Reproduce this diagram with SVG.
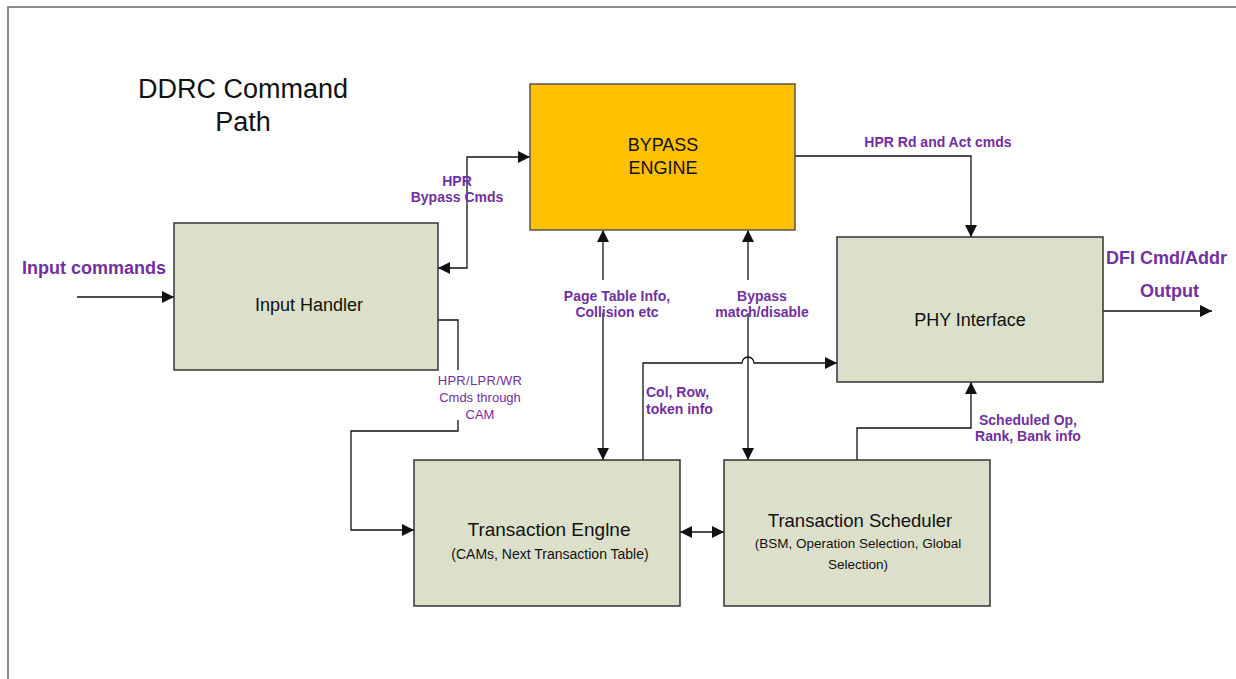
<svg xmlns="http://www.w3.org/2000/svg" width="1236" height="679" viewBox="0 0 1236 679">
<style>
.box{fill:#DCE0CA;stroke:#333;stroke-width:1.5}
.byp{fill:#FFC000;stroke:#555;stroke-width:1.5}
.t{font-family:"Liberation Sans",Arial,sans-serif;fill:#111;text-anchor:middle}
.lb{font-family:"Liberation Sans",Arial,sans-serif;fill:#7030A0;font-weight:bold;font-size:14px;text-anchor:middle}
.ls{font-family:"Liberation Sans",Arial,sans-serif;fill:#7030A0;font-weight:bold;font-size:14px;text-anchor:start}
.ln{font-family:"Liberation Sans Narrow","Liberation Sans",Arial,sans-serif;fill:#7030A0;font-size:13px;text-anchor:middle}
.big{font-family:"Liberation Sans",Arial,sans-serif;fill:#7030A0;font-weight:bold;font-size:18px}
.c{fill:none;stroke:#111;stroke-width:1.3}
</style>
<defs>
<marker id="ah" viewBox="0 0 10 10" refX="10" refY="5" markerWidth="13" markerHeight="12" markerUnits="userSpaceOnUse" orient="auto-start-reverse">
<path d="M0,0 L10,5 L0,10 Z" fill="#111"/>
</marker>
</defs>
<rect width="1236" height="679" fill="#fff"/>
<path d="M8,679 V7 H1236" fill="none" stroke="#666" stroke-width="1.5"/>
<g id="title">
<text class="t" x="243" y="98" font-size="27">DDRC Command</text>
<text class="t" x="243" y="131" font-size="27">Path</text>
</g>
<g id="connectors">
<path class="c" d="M77,297 H174" marker-end="url(#ah)"/>
<path class="c" d="M530,157 H467 V268 H438" marker-start="url(#ah)" marker-end="url(#ah)"/>
<path class="c" d="M438,320 H458 V370"/>
<path class="c" d="M458,420 V431 H351 V530 H414" marker-end="url(#ah)"/>
<path class="c" d="M795,156 H971 V237" marker-end="url(#ah)"/>
<path class="c" d="M1103,311 H1212" marker-end="url(#ah)"/>
<path class="c" d="M603,280 V230" marker-end="url(#ah)"/>
<path class="c" d="M603,313 V460" marker-end="url(#ah)"/>
<path class="c" d="M748,280 V230" marker-end="url(#ah)"/>
<path class="c" d="M748,313 V460" marker-end="url(#ah)"/>
<path class="c" d="M643,460 V363 H742 A6,6 0 0 1 754,363 H837" marker-end="url(#ah)"/>
<path class="c" d="M857,460 V428 H971 V382" marker-end="url(#ah)"/>
<path class="c" d="M680,532 H724" marker-start="url(#ah)" marker-end="url(#ah)"/>
</g>
<g id="bypass-engine">
<rect class="byp" x="530" y="84" width="265" height="146"/>
<text class="t" x="663" y="151" font-size="18">BYPASS</text>
<text class="t" x="663" y="174" font-size="18">ENGINE</text>
</g>
<g id="input-handler">
<rect class="box" x="174" y="223" width="264" height="147"/>
<text class="t" x="309" y="311" font-size="18">Input Handler</text>
</g>
<g id="phy-interface">
<rect class="box" x="837" y="237" width="266" height="145"/>
<text class="t" x="970" y="326" font-size="18">PHY Interface</text>
</g>
<g id="transaction-engine">
<rect class="box" x="414" y="460" width="266" height="146"/>
<text class="t" x="549" y="536" font-size="19">Transaction Englne</text>
<text class="t" x="550" y="559" font-size="14">(CAMs, Next Transaction Table)</text>
</g>
<g id="transaction-scheduler">
<rect class="box" x="724" y="460" width="266" height="146"/>
<text class="t" x="860" y="527" font-size="18.5">Transaction Scheduler</text>
<text class="t" x="858" y="548" font-size="13.5">(BSM, Operation Selection, Global</text>
<text class="t" x="858" y="569" font-size="13.5">Selection)</text>
</g>
<g id="labels">
<text class="big" x="22" y="274">Input commands</text>
<text class="lb" x="457" y="186">HPR</text>
<text class="lb" x="457" y="202">Bypass Cmds</text>
<text class="ln" x="480" y="385" letter-spacing="0.3">HPR/LPR/WR</text>
<text class="ln" x="480" y="402">Cmds through</text>
<text class="ln" x="480" y="419">CAM</text>
<text class="lb" x="938" y="147">HPR Rd and Act cmds</text>
<text class="big" x="1106" y="264">DFI Cmd/Addr</text>
<text class="big" x="1140" y="297">Output</text>
<text class="lb" x="617" y="301">Page Table Info,</text>
<text class="lb" x="617" y="317">Collision etc</text>
<text class="lb" x="762" y="301">Bypass</text>
<text class="lb" x="762" y="317">match/disable</text>
<text class="ls" x="646" y="397">Col, Row,</text>
<text class="ls" x="646" y="414">token info</text>
<text class="lb" x="1028" y="425">Scheduled Op,</text>
<text class="lb" x="1028" y="441">Rank, Bank info</text>
</g>
</svg>
